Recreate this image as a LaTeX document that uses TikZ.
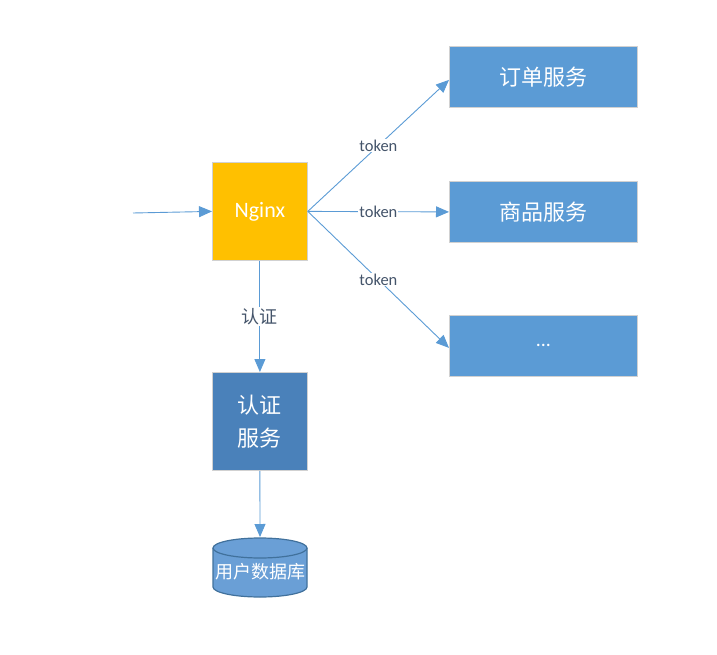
\documentclass[tikz,border=0pt]{standalone}
\usepackage{fontspec}
\setmainfont{Carlito}
\newfontfamily\cjk{Noto Sans CJK SC}
\usetikzlibrary{arrows.meta}
\definecolor{svc}{HTML}{5B9BD5}
\definecolor{auth}{HTML}{4A81BA}
\definecolor{ngx}{HTML}{FFC000}
\definecolor{lbl}{HTML}{44546A}
\definecolor{dbfill}{HTML}{6A9FD6}
\definecolor{dbline}{HTML}{41719C}
\begin{document}
\begin{tikzpicture}[x=1pt,y=-1pt,
  box/.style={draw=black!18,line width=0.8pt,text=white,inner sep=0pt,anchor=north west},
  conn/.style={draw=svc,line width=0.9pt,-{Triangle[length=13pt,width=11pt]}},
  tok/.style={text=lbl,font=\fontsize{16.5}{18}\selectfont,fill=white,inner sep=1pt}]
\useasboundingbox (0,0) rectangle (717,655);
\node[box,fill=ngx,minimum width=95pt,minimum height=98pt,font=\fontsize{22}{24}\selectfont] (ngx) at (212,162) {Nginx};
\node[box,fill=svc,minimum width=188pt,minimum height=61pt,font=\cjk\fontsize{22}{24}\selectfont] (order) at (449,46) {订单服务};
\node[box,fill=svc,minimum width=188pt,minimum height=61pt,font=\cjk\fontsize{22}{24}\selectfont] (goods) at (449,181) {商品服务};
\node[box,fill=svc,minimum width=188pt,minimum height=61pt,font=\fontsize{20}{22}\selectfont] (more) at (449,315) {...};
\node[box,fill=auth,minimum width=95pt,minimum height=98pt,font=\cjk\fontsize{22}{33}\selectfont,align=center] (auth) at (212,372) {认证\\服务};
% database cylinder
\node[draw=none,minimum width=94pt,minimum height=60pt,inner sep=0pt,anchor=north] (db) at (260,537) {};
\fill[dbfill] (213,548) -- (213,587) arc[start angle=180,end angle=0,x radius=47,y radius=10] -- (307,548) -- cycle;
\fill[dbfill] (260,548) ellipse[x radius=47,y radius=10];
\draw[dbline,line width=1.2pt] (213,548) -- (213,587) arc[start angle=180,end angle=0,x radius=47,y radius=10] -- (307,548);
\draw[dbline,line width=1.2pt] (260,548) ellipse[x radius=47,y radius=10];
\node[text=white,font=\cjk\fontsize{18}{20}\selectfont,inner sep=0pt] (dbt) at (260,572) {用户数据库};
\coordinate (src) at (133,213);
\draw[conn] (src) -- (ngx.west);
\draw[conn] (ngx.east) -- node[tok,pos=0.5] (t1) {token} ([yshift=-3pt]order.west);
\draw[conn] (ngx.east) -- node[tok,pos=0.5] (t2) {token} (goods.west);
\draw[conn] (ngx.east) -- node[tok,pos=0.5] (t3) {token} ([yshift=-2pt]more.west);
\draw[conn] (ngx.south) -- node[tok,font=\cjk\fontsize{18}{20}\selectfont] (t4) {认证} (auth.north);
\draw[conn] (auth.south) -- (db.north);
\end{tikzpicture}
\end{document}
